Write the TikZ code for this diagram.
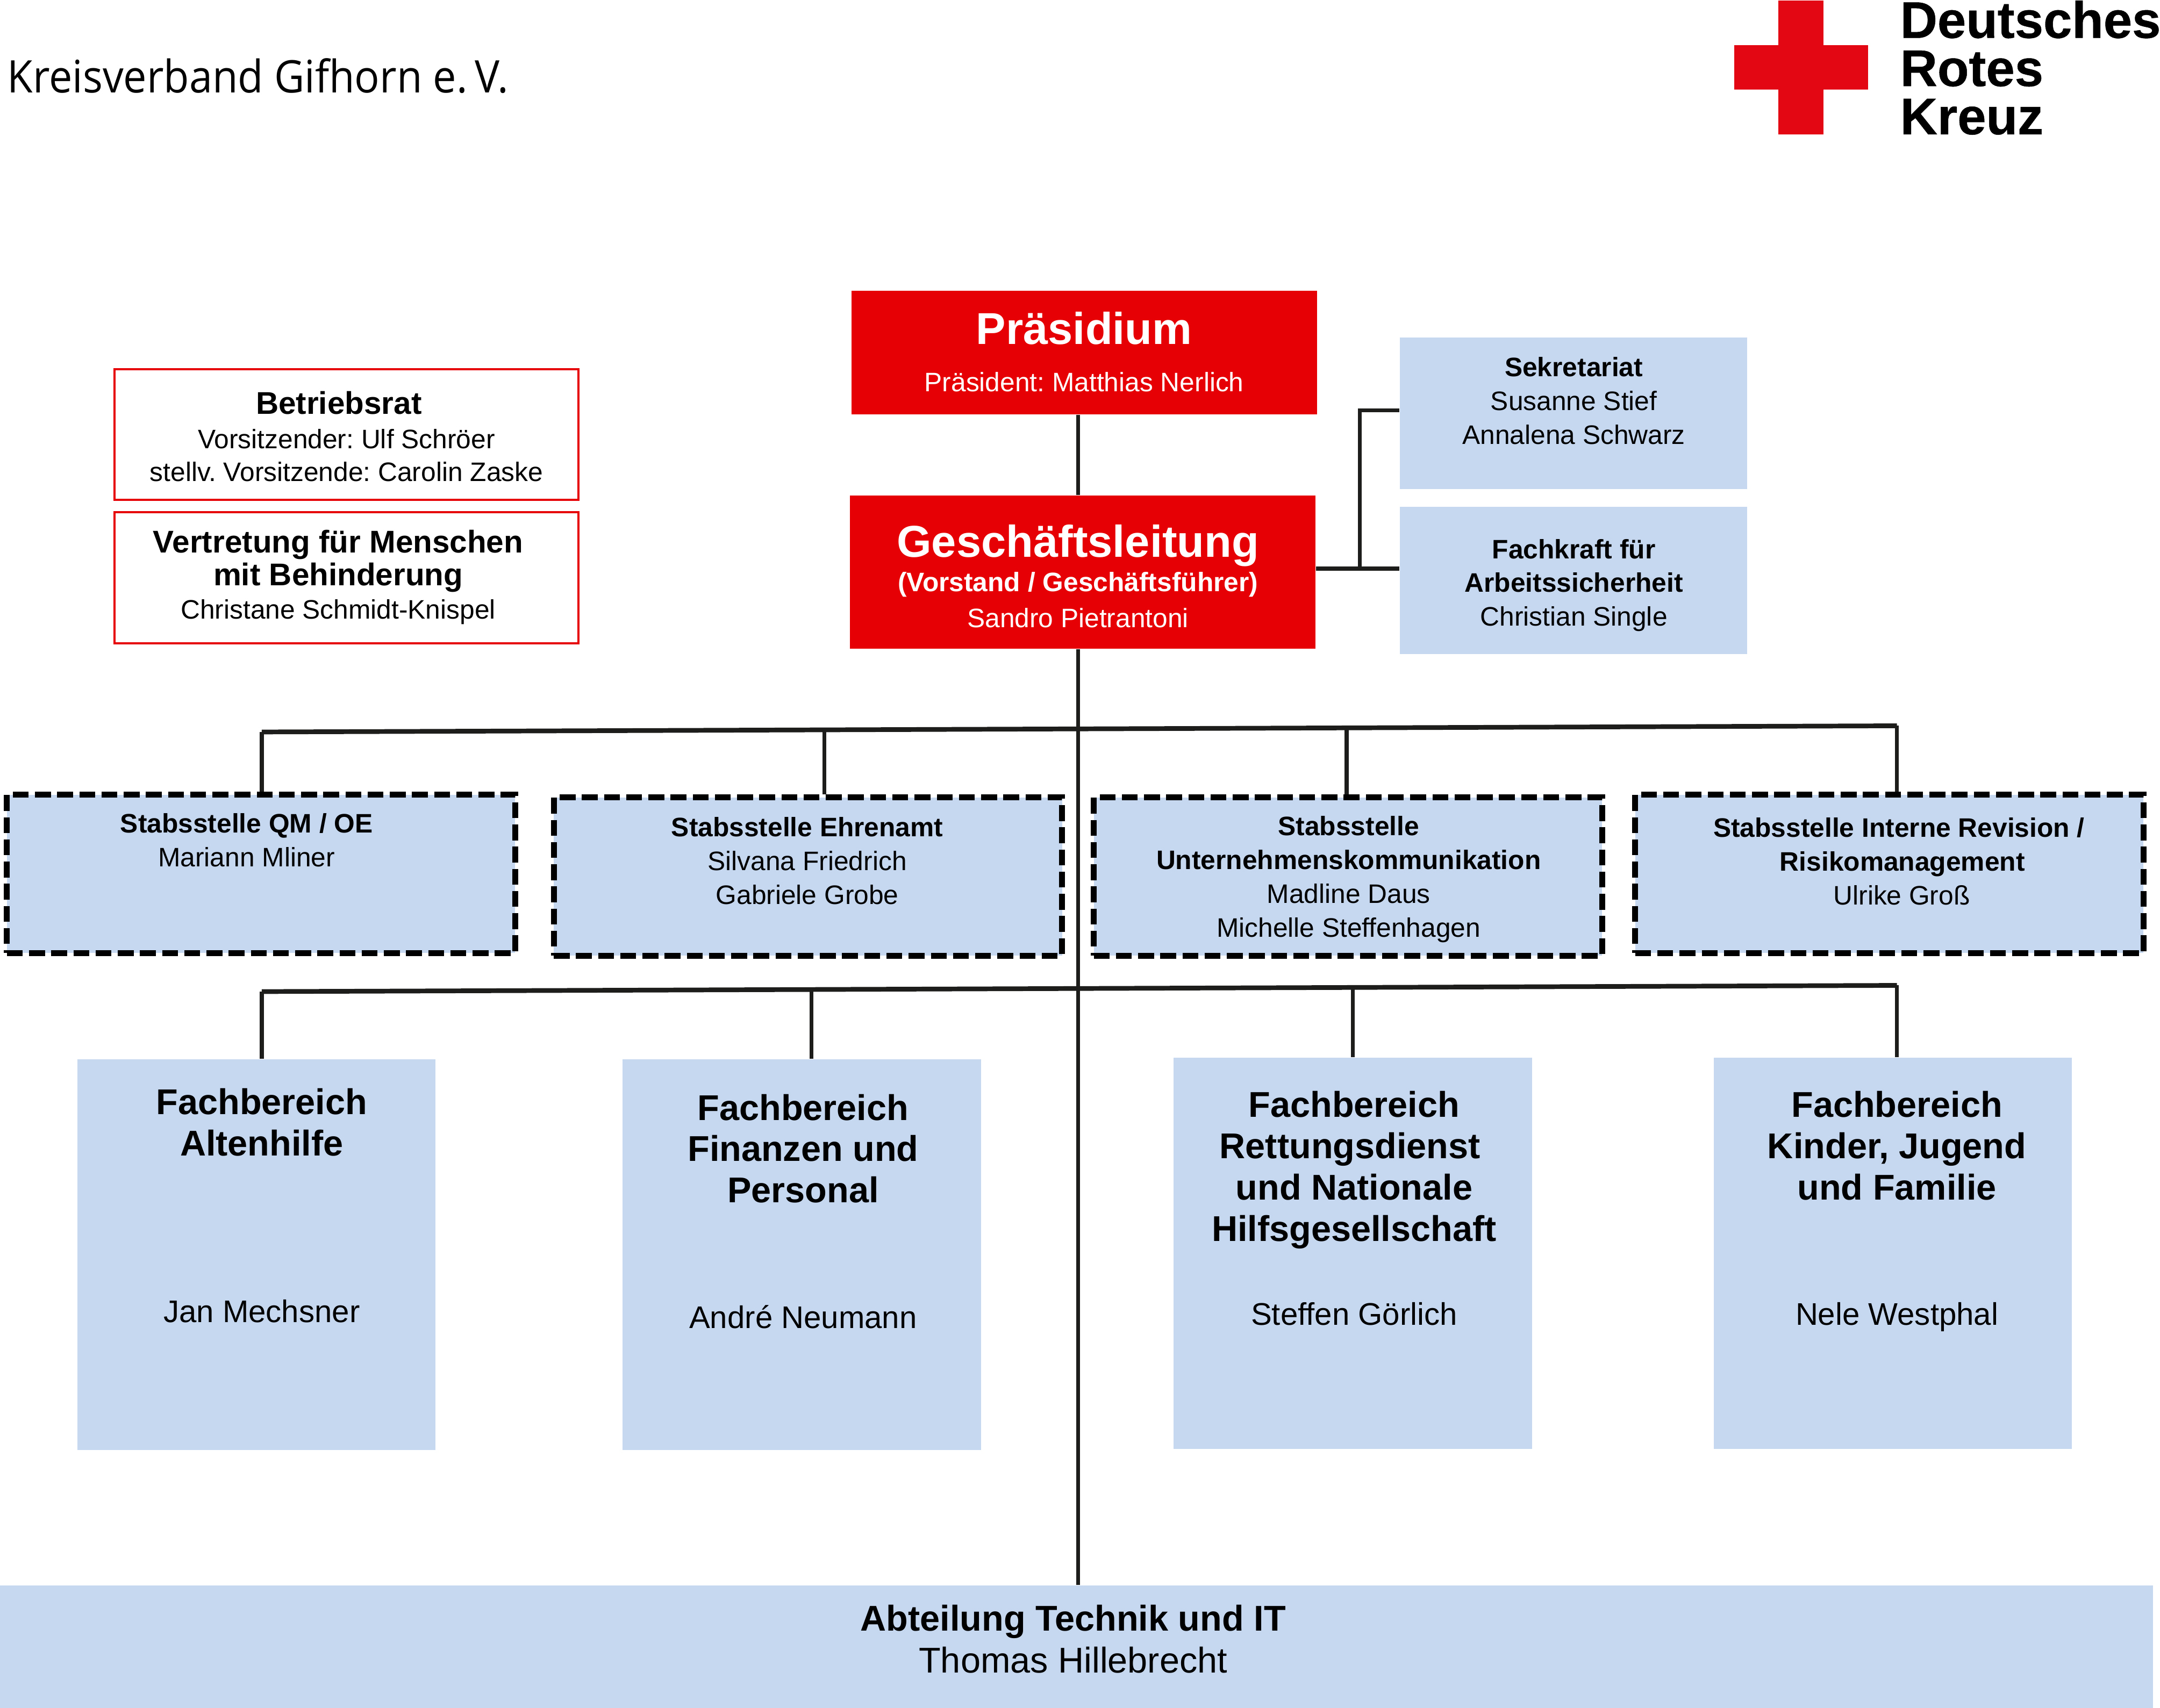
\documentclass[tikz,border=0pt]{standalone}
\usepackage{fontspec}
\setmainfont{Liberation Sans}
\newfontfamily\titlefont[FakeStretch=0.926]{Open Sans}
\newfontfamily\logofont[FakeBold=0.5]{Liberation Sans Bold}
\usepackage{tikz}

\definecolor{drkred}{HTML}{E60005}
\definecolor{logored}{HTML}{E30613}
\definecolor{boxblue}{HTML}{C6D8F0}
\definecolor{linegray}{HTML}{1D1D1B}

\newcommand{\fsize}[2]{\fontsize{#1}{#2}\selectfont}

\tikzset{
	box/.style={inner sep=0pt, minimum width=#1},
	redbox/.style={box=169pt, draw=none, fill=drkred},
	bluebox/.style={box=126pt, fill=boxblue},
	framebox/.style={box=168.5pt, minimum height=47.5pt, draw=drkred, line width=0.75pt, fill=white},
	stabbox/.style={box=184.5pt, minimum height=57.5pt, fill=boxblue, draw=black, line width=2.2pt, dash pattern=on 5.75pt off 2.3pt},
	areabox/.style={box=130pt, minimum height=142pt, fill=boxblue},
	smalltxt/.style={inner sep=0pt, align=center, font=\fsize{9.7}{12.25}},
	areatxt/.style={inner sep=0pt, align=center, font=\fsize{13}{15}\bfseries},
	conn/.style={draw=linegray, line width=1.45pt},
	bus/.style={draw=linegray, line width=1.7pt}
}

\begin{document}
\frenchspacing
\begin{tikzpicture}[x=0.5pt, y=-0.5pt]
	\useasboundingbox (0,0) rectangle (1568,1240.2);

	% head line and logo
	\node[inner sep=0pt, anchor=west, font=\fsize{16.3}{18}\titlefont] (title) at (5,55) {Kreisverband Gifhorn e.\,V.};
	\fill[logored] (1291,0.4) -- (1323.6,0.4) -- (1323.6,32.8) -- (1356,32.8) -- (1356,65) -- (1323.6,65) -- (1323.6,97.6) -- (1291,97.6) -- (1291,65) -- (1259,65) -- (1259,32.8) -- (1291,32.8) -- cycle;
	\node[inner sep=0pt, anchor=north west, align=left, font=\fsize{18.7}{17.5}\logofont] (logotxt) at (1379,0) {Deutsches\\Rotes\\Kreuz};

	% top boxes
	\node[redbox, minimum height=45pt] (praes) at (787,256) {};
	\node[inner sep=0pt, align=center, text=white] (praestxt) at (787,255.5) {{\fsize{16.2}{18}\bfseries Präsidium}\\[5pt]{\fsize{9.7}{12}Präsident: Matthias Nerlich}};
	\node[redbox, minimum height=55.5pt] (gl) at (786,415.5) {};
	\node[inner sep=0pt, align=center, text=white] (gltxt) at (782.5,418.5) {{\fsize{16.2}{18}\bfseries Geschäftsleitung}\\[0.5pt]{\fsize{9.7}{13}\bfseries (Vorstand / Geschäftsführer)}\\[1pt]{\fsize{9.7}{13}Sandro Pietrantoni}};

	\node[bluebox, minimum height=55pt] (sekr) at (1142.25,300) {};
	\node[smalltxt] (sekrtxt) at (1142.5,291) {\textbf{Sekretariat}\\Susanne Stief\\Annalena Schwarz};
	\node[bluebox, minimum height=53.5pt] (fachkraft) at (1142.25,421.5) {};
	\node[smalltxt] (fachkrafttxt) at (1142.5,425) {\textbf{Fachkraft für}\\\textbf{Arbeitssicherheit}\\Christian Single};

	\node[framebox] (br) at (251.5,315.5) {};
	\node[inner sep=0pt, align=center] (brtxt) at (251.5,317) {\hspace*{-5.5pt}{\fsize{11.4}{13}\bfseries Betriebsrat}\\[0.4pt]{\fsize{9.7}{12.25}Vorsitzender: Ulf Schröer}\\{\fsize{9.7}{12.25}stellv. Vorsitzende: Carolin Zaske}};
	\node[framebox] (vt) at (251.5,419.5) {};
	\node[inner sep=0pt, align=center] (vttxt) at (245.5,419) {{\fsize{11.4}{12.5}\bfseries Vertretung für Menschen}\\{\fsize{11.4}{12.5}\bfseries mit Behinderung}\\{\fsize{9.7}{12.25}Christane Schmidt-Knispel}};

	% staff units
	\node[stabbox] (qm) at (189.5,634.5) {};
	\node[smalltxt] (qmtxt) at (179,610) {\textbf{Stabsstelle QM / OE}\\Mariann Mliner};
	\node[stabbox] (ehrenamt) at (586.5,636.5) {};
	\node[smalltxt] (ehrenamttxt) at (586,625) {\textbf{Stabsstelle Ehrenamt}\\Silvana Friedrich\\Gabriele Grobe};
	\node[stabbox] (kommu) at (978.5,636.5) {};
	\node[smalltxt] (kommutxt) at (979,638.5) {\textbf{Stabsstelle}\\\textbf{Unternehmenskommunikation}\\Madline Daus\\Michelle Steffenhagen};
	\node[stabbox] (revision) at (1371.5,634.5) {};
	\node[smalltxt] (revisiontxt) at (1378.5,625.5) {\textbf{Stabsstelle Interne Revision /}\\\hspace*{2.5pt}\textbf{Risikomanagement}\\\hspace*{2pt}Ulrike Groß};

	% departments
	\node[areabox] (alten) at (186,911) {};
	\node[areatxt] (altentxt) at (190,875.5) {Fachbereich\\Altenhilfe\\[45.5pt]{\fsize{11.35}{13}\mdseries Jan Mechsner}};
	\node[areabox] (finanz) at (582,911) {};
	\node[areatxt] (finanztxt) at (583,879.5) {Fachbereich\\Finanzen und\\Personal\\[30.5pt]{\fsize{11.35}{13}\mdseries André Neumann}};
	\node[areabox] (rett) at (982,910) {};
	\node[areatxt] (retttxt) at (983,877.5) {Fachbereich\\\hspace*{-3pt}Rettungsdienst\\und Nationale\\Hilfsgesellschaft\\[15.5pt]{\fsize{11.35}{13}\mdseries Steffen Görlich}};
	\node[areabox] (kinder) at (1374,910) {};
	\node[areatxt] (kindertxt) at (1377,879.5) {Fachbereich\\Kinder, Jugend\\und Familie\\[30.5pt]{\fsize{11.35}{13}\mdseries Nele Westphal}};

	\node[inner sep=0pt, minimum width=781.5pt, minimum height=44.6pt, fill=boxblue] (technik) at (781.5,1195.7) {};
	\node[inner sep=0pt, align=center] (techniktxt) at (779,1190) {{\fsize{13}{15.5}\bfseries Abteilung Technik und IT}\\[2pt]{\fsize{13}{15.5}Thomas Hillebrecht}};

	% connectors
	\coordinate (trunk) at (782.6,0);
	\coordinate (staffL) at (190,531.5);
	\coordinate (staffR) at (1377,527);
	\coordinate (staffB) at (598.5,530);
	\coordinate (staffC) at (977.5,528.5);
	\coordinate (areaL) at (190,720);
	\coordinate (areaR) at (1377,715.5);
	\coordinate (areaB) at (589,718.5);
	\coordinate (areaC) at (982,717);
	\coordinate (side) at (987,412.9);
	\coordinate (sideup) at (987,298);

	\draw[conn] (trunk |- praes.south) -- (trunk |- gl.north);
	\draw[conn] (trunk |- gl.south) -- (trunk |- technik.north);
	\draw[bus] (staffL) -- (staffR);
	\draw[bus] (areaL) -- (areaR);
	\draw[conn] (staffL) -- (staffL |- qm.north);
	\draw[conn] (staffB) -- (staffB |- ehrenamt.north);
	\draw[conn] (staffC) -- (staffC |- kommu.north);
	\draw[conn] (staffR) -- (staffR |- revision.north);
	\draw[conn] (areaL) -- (areaL |- alten.north);
	\draw[conn] (areaB) -- (areaB |- finanz.north);
	\draw[conn] (areaC) -- (areaC |- rett.north);
	\draw[conn] (areaR) -- (areaR |- kinder.north);
	\draw[bus] (side -| gl.east) -- (side -| fachkraft.west);
	\draw[conn] (side) -- (sideup) -- (sideup -| sekr.west);
\end{tikzpicture}
\end{document}
